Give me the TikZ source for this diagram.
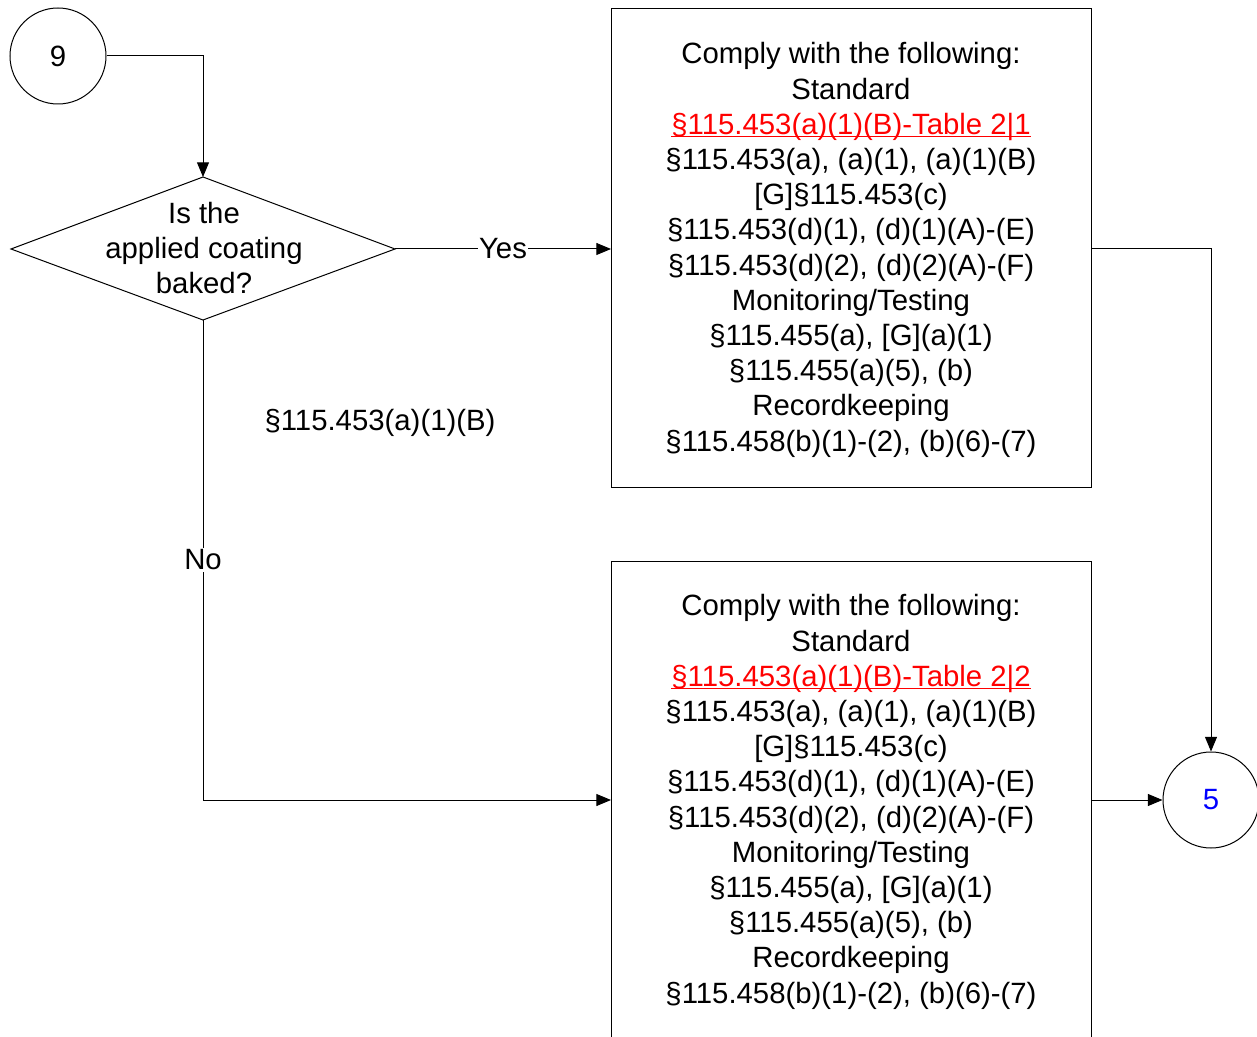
\documentclass[tikz,border=0pt]{standalone}
\usepackage{fontspec}
\setmainfont{Liberation Sans}
\usetikzlibrary{shapes.geometric,arrows.meta}
\definecolor{refred}{RGB}{255,0,0}
\definecolor{refblue}{RGB}{0,0,255}
\tikzset{
  base/.style={font=\fontsize{22}{26.4}\selectfont, line width=0.75pt},
  conn/.style={line width=0.75pt, -{Triangle[length=11pt,width=9pt]}},
  plain/.style={line width=0.75pt},
  circ/.style={draw, circle, minimum size=72pt, inner sep=0pt, line width=0.75pt},
  boxtext/.style={align=center, inner sep=0pt},
  lbl/.style={fill=white, inner sep=1pt}
}
\newcommand{\redul}[1]{\textcolor{refred}{\setbox0\hbox{#1}\rlap{\rule[-2.2pt]{\wd0}{0.9pt}}\box0}}
\newcommand{\boxlines}[1]{Comply with the following:\\Standard\\\redul{§115.453(a)(1)(B)-Table 2|#1}\\§115.453(a), (a)(1), (a)(1)(B)\\{}[G]§115.453(c)\\§115.453(d)(1), (d)(1)(A)-(E)\\§115.453(d)(2), (d)(2)(A)-(F)\\Monitoring/Testing\\§115.455(a), [G](a)(1)\\§115.455(a)(5), (b)\\Recordkeeping\\§115.458(b)(1)-(2), (b)(6)-(7)}
\begin{document}
\begin{tikzpicture}[x=0.75pt,y=-0.75pt,base]
\useasboundingbox (0,0) rectangle (1257,1037);
% circles
\node[circ] (c9) at (58,56) {9};
\node[circ, text=refblue] (c5) at (1211,800) {5};
% diamond
\coordinate (dc) at (203,249);
\coordinate (dt) at (203,177);
\coordinate (db) at (203,320);
\coordinate (dl) at (11,249);
\coordinate (dr) at (395,249);
\draw[plain] (dt) -- (dr) -- (db) -- (dl) -- cycle;
\node[boxtext] (dtext) at (204,248) {Is the\\applied coating\\baked?};
% boxes
\draw[plain] (611,9) rectangle (1091,488);
\coordinate (b1l) at (611,249);
\coordinate (b1r) at (1091,249);
\node[boxtext] (b1) at (851,250) {\boxlines{1}};
\draw[plain] (611,561) rectangle (1091,1045);
\coordinate (b2l) at (611,800);
\coordinate (b2r) at (1091,800);
\node[boxtext] (b2) at (851,802) {\boxlines{2}};
% connectors
\draw[conn] (c9.east) -| (dt);
\draw[conn] (dr) -- node[lbl] (yes) {Yes} (b1l);
\draw[conn] (db) |- node[lbl, pos=0.25] (no) {No} (b2l);
\draw[conn] (b1r) -| (c5.north);
\draw[conn] (b2r) -- (c5.west);
\node (lab) at (380,423) {§115.453(a)(1)(B)};
\end{tikzpicture}
\end{document}
